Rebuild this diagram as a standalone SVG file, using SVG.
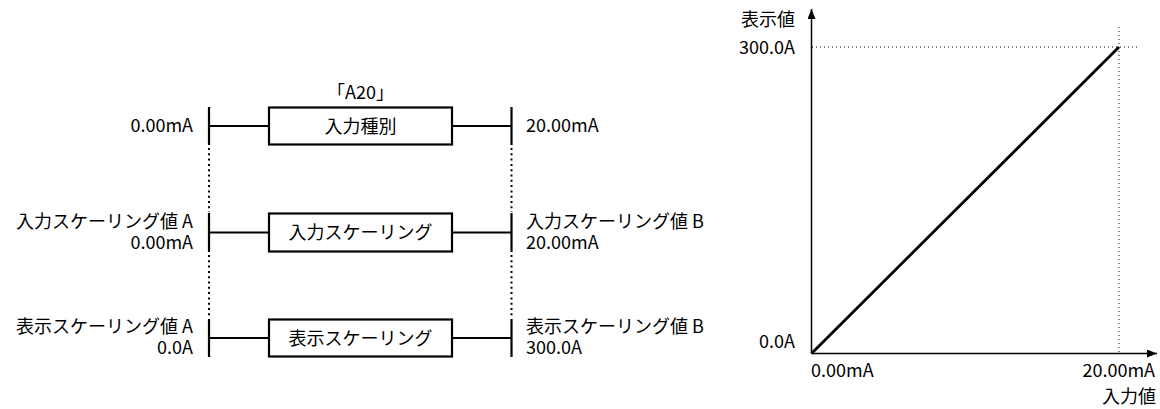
<svg xmlns="http://www.w3.org/2000/svg" width="1160" height="409" viewBox="0 0 1160 409">
<defs>
<style>
text{font-family:"Noto Sans CJK JP","Noto Sans",sans-serif;font-size:18px;fill:#000}
.r{text-anchor:end}
.m{text-anchor:middle}
.box{fill:#fff;stroke:#000;stroke-width:2.2}
.ln{stroke:#000;stroke-width:2;fill:none}
.tick{stroke:#000;stroke-width:2.2;fill:none}
.dot{stroke:#000;stroke-width:2;stroke-dasharray:2 3.3;fill:none}
.gdot{stroke:#000;stroke-width:1;stroke-dasharray:1 3;fill:none}
.axis{stroke:#000;stroke-width:1.5;fill:none}
</style>
<marker id="ah" viewBox="0 0 10 8" refX="10" refY="4" markerWidth="10" markerHeight="8" markerUnits="userSpaceOnUse" orient="auto">
<path d="M0,0 L10,4 L0,8 Z" fill="#000"/>
</marker>
</defs>
<rect width="1160" height="409" fill="#fff"/>
<g id="connectors">
<line class="tick" x1="209" y1="107" x2="209" y2="145"/>
<line class="tick" x1="209" y1="213" x2="209" y2="252"/>
<line class="tick" x1="209" y1="319" x2="209" y2="357"/>
<line class="dot" x1="209" y1="148" x2="209" y2="212"/>
<line class="dot" x1="209" y1="255" x2="209" y2="318"/>
<line class="tick" x1="511.5" y1="107" x2="511.5" y2="145"/>
<line class="tick" x1="511.5" y1="213" x2="511.5" y2="252"/>
<line class="tick" x1="511.5" y1="319" x2="511.5" y2="357"/>
<line class="dot" x1="511.5" y1="148" x2="511.5" y2="212"/>
<line class="dot" x1="511.5" y1="255" x2="511.5" y2="318"/>
<line class="ln" x1="209" y1="126" x2="269" y2="126"/>
<line class="ln" x1="452" y1="126" x2="511.5" y2="126"/>
<line class="ln" x1="209" y1="232.5" x2="269" y2="232.5"/>
<line class="ln" x1="452" y1="232.5" x2="511.5" y2="232.5"/>
<line class="ln" x1="209" y1="338" x2="269" y2="338"/>
<line class="ln" x1="452" y1="338" x2="511.5" y2="338"/>
</g>
<g id="node-input-type">
<rect class="box" x="269" y="107.5" width="183" height="37"/>
<text class="m" x="360.5" y="133">入力種別</text>
<text class="m" x="360.5" y="99">「A20」</text>
</g>
<g id="node-input-scaling">
<rect class="box" x="269" y="213.5" width="183" height="38"/>
<text class="m" x="360.5" y="239">入力スケーリング</text>
</g>
<g id="node-display-scaling">
<rect class="box" x="269" y="319.5" width="183" height="37"/>
<text class="m" x="360.5" y="345">表示スケーリング</text>
</g>
<g id="labels-left">
<text class="r" x="193" y="132">0.00mA</text>
<text class="r" x="193" y="228">入力スケーリング値 A</text>
<text class="r" x="193" y="249">0.00mA</text>
<text class="r" x="193" y="333">表示スケーリング値 A</text>
<text class="r" x="193" y="354">0.0A</text>
</g>
<g id="labels-right">
<text x="526" y="132">20.00mA</text>
<text x="526" y="228">入力スケーリング値 B</text>
<text x="526" y="249">20.00mA</text>
<text x="526" y="333">表示スケーリング値 B</text>
<text x="526" y="354">300.0A</text>
</g>
<g id="graph">
<line class="gdot" x1="812" y1="47" x2="1140" y2="47"/>
<line class="gdot" x1="1119" y1="27" x2="1119" y2="353"/>
<line class="axis" x1="811.5" y1="353.5" x2="811.5" y2="9" marker-end="url(#ah)"/>
<line class="axis" x1="811.5" y1="353.5" x2="1157" y2="353.5" marker-end="url(#ah)"/>
<line x1="811.5" y1="353.5" x2="1119" y2="47" stroke="#000" stroke-width="2.8"/>
<text class="r" x="795" y="26">表示値</text>
<text class="r" x="795" y="54">300.0A</text>
<text class="r" x="795" y="348">0.0A</text>
<text x="811" y="377">0.00mA</text>
<text class="r" x="1155" y="377">20.00mA</text>
<text class="r" x="1156" y="403">入力値</text>
</g>
</svg>
